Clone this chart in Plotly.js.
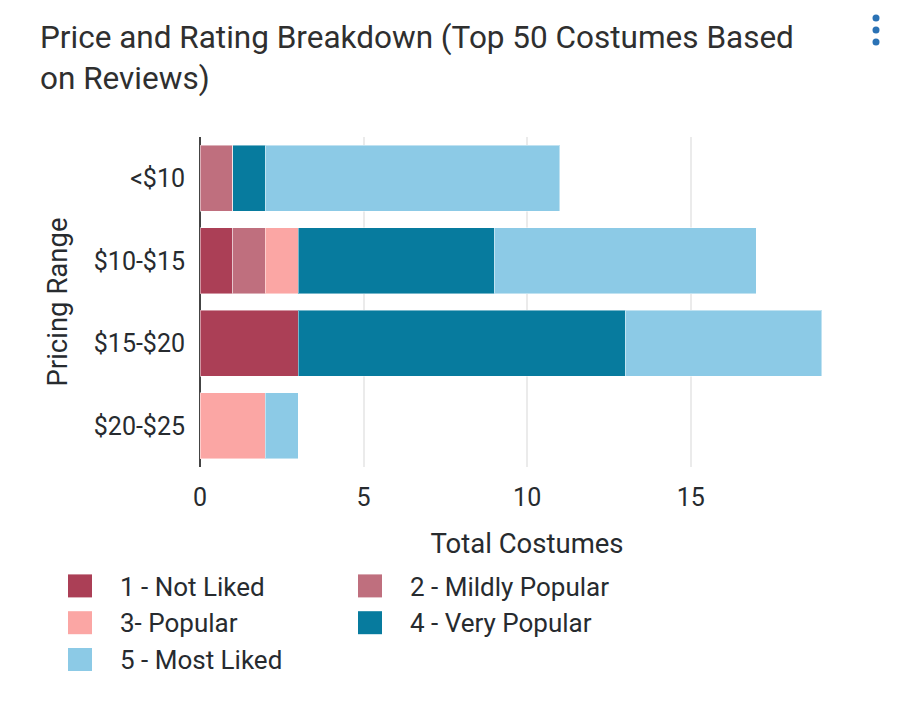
<!DOCTYPE html>
<html>
<head>
<meta charset="utf-8">
<script src="https://cdn.plot.ly/plotly-3.0.1.min.js"></script>
<style>
  html, body { margin: 0; padding: 0; background: #fff; }
  #chart { width: 910px; height: 720px; }
</style>
</head>
<body>
<div id="chart"></div>
<script>
const categories = ["<$10", "$10-$15", "$15-$20", "$20-$25"];
const seriesNames = ["1 - Not Liked", "2 - Mildly Popular", "3- Popular", "4 - Very Popular", "5 - Most Liked"];
const notLiked      = [0, 1, 3, 0];
const mildlyPopular = [1, 1, 0, 0];
const popular       = [0, 1, 0, 2];
const veryPopular   = [1, 6, 10, 0];
const mostLiked     = [9, 8, 6, 1];
const seriesColors = ["#ab3f56", "#bf6f7e", "#fba6a4", "#077b9e", "#8ccae6"];
const seriesValues = [notLiked, mildlyPopular, popular, veryPopular, mostLiked];

const W = 910, H = 720;
const M = {l: 200, r: 56, t: 137, b: 253};
const plotW = W - M.l - M.r, plotH = H - M.t - M.b;
const px2x = p => (p - M.l) / plotW;
const py2y = p => 1 - (p - M.t) / plotH;

const traces = seriesNames.map((name, i) => ({
  type: "bar",
  orientation: "h",
  name: name,
  x: seriesValues[i],
  y: categories,
  marker: {color: seriesColors[i], line: {color: "rgba(255,255,255,0.45)", width: 1}},
  hoverinfo: "x+y+name"
}));

const FAM = "Roboto, 'Noto Sans', sans-serif";
const TXT = "#272b2f";
const axisFont = {family: FAM, size: 25, color: TXT};
const dots = [18, 30, 42].map(cy => ({
  type: "circle", xref: "paper", yref: "paper",
  x0: px2x(876 - 3.5), x1: px2x(876 + 3.5),
  y0: py2y(cy + 3.5), y1: py2y(cy - 3.5),
  fillcolor: "#2a72b5", line: {width: 0}
}));

const layout = {
  width: W, height: H,
  margin: M,
  paper_bgcolor: "#ffffff",
  plot_bgcolor: "#ffffff",
  barmode: "stack",
  bargap: 0.2,
  font: axisFont,
  title: {
    text: "Price and Rating Breakdown (Top 50 Costumes Based<br>on Reviews)",
    font: {family: FAM, size: 31.5, color: "#2f2f2f"},
    x: 40 / W, xref: "container", xanchor: "left",
    y: 1 - 48 / H, yref: "container", yanchor: "top"
  },
  xaxis: {
    range: [0, 19.99],
    tickvals: [0, 5, 10, 15],
    showgrid: true, gridcolor: "#ebebeb", gridwidth: 2,
    zeroline: true, zerolinecolor: "#444", zerolinewidth: 2,
    showline: false,
    ticks: "", ticklabelstandoff: 13,
    tickfont: axisFont,
    title: {text: "Total Costumes", font: {family: FAM, size: 27.5, color: TXT}, standoff: 22},
    automargin: false, fixedrange: true
  },
  yaxis: {
    type: "category",
    categoryorder: "array",
    categoryarray: categories.slice().reverse(),
    showgrid: false, zeroline: false, showline: false,
    ticks: "", ticklabelstandoff: 14,
    tickfont: axisFont,
    title: {text: "Pricing Range", font: {family: FAM, size: 27.5, color: TXT}, standoff: 18},
    automargin: false, fixedrange: true
  },
  showlegend: true,
  legend: {
    orientation: "h",
    traceorder: "normal",
    x: px2x(60), xanchor: "left",
    y: py2y(562), yanchor: "top",
    itemwidth: 50,
    entrywidth: 225, entrywidthmode: "pixels",
    font: {family: FAM, size: 26, color: TXT},
    bgcolor: "rgba(0,0,0,0)"
  },
  shapes: dots
};

Plotly.newPlot("chart", traces, layout, {displayModeBar: false, staticPlot: true}).then(gd => {
  gd.querySelectorAll(".legendpoints path").forEach(p => {
    p.setAttribute("d", "M2,12H-22V-11H2Z");
    p.style.strokeWidth = "0";
  });
});
</script>
</body>
</html>
